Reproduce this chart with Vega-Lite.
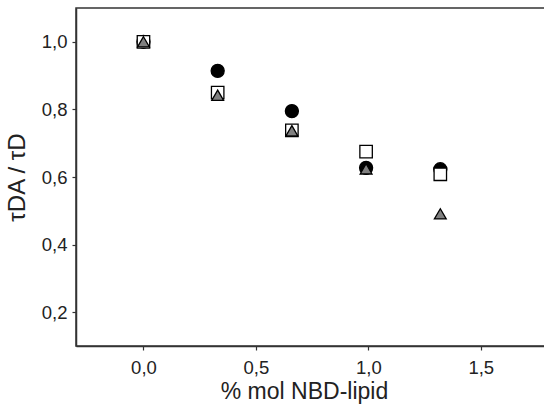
{
  "$schema": "https://vega.github.io/schema/vega-lite/v6.json",
  "width": 470,
  "height": 338,
  "autosize": {"type": "none"},
  "padding": {"left": 76, "top": 8, "right": 0, "bottom": 61},
  "background": "white",
  "config": {
    "view": {"stroke": "#333333", "strokeWidth": 1.5},
    "font": "Liberation Sans",
    "axis": {
      "grid": false,
      "domainColor": "#333333",
      "domainWidth": 1.5,
      "tickColor": "#333333",
      "tickWidth": 1.2,
      "tickSize": 4,
      "labelFont": "Liberation Sans",
      "labelFontSize": 18.5,
      "labelColor": "#222222",
      "titleFont": "Liberation Sans",
      "titleFontSize": 23,
      "titleFontWeight": "normal",
      "titleColor": "#222222"
    }
  },
  "data": {
    "values": [
      {"x": 0.0, "y": 1.0, "series": "circle"},
      {"x": 0.33, "y": 0.914, "series": "circle"},
      {"x": 0.66, "y": 0.795, "series": "circle"},
      {"x": 0.99, "y": 0.627, "series": "circle"},
      {"x": 1.32, "y": 0.623, "series": "circle"},
      {"x": 0.0, "y": 1.0, "series": "square"},
      {"x": 0.33, "y": 0.850, "series": "square"},
      {"x": 0.66, "y": 0.738, "series": "square"},
      {"x": 0.99, "y": 0.675, "series": "square"},
      {"x": 1.32, "y": 0.608, "series": "square"},
      {"x": 0.0, "y": 1.0, "series": "triangle"},
      {"x": 0.33, "y": 0.842, "series": "triangle"},
      {"x": 0.66, "y": 0.737, "series": "triangle"},
      {"x": 0.99, "y": 0.624, "series": "triangle"},
      {"x": 1.32, "y": 0.491, "series": "triangle"}
    ]
  },
  "mark": {"type": "point", "filled": true, "stroke": "black", "strokeWidth": 1.3, "opacity": 1},
  "encoding": {
    "x": {
      "field": "x",
      "type": "quantitative",
      "scale": {"domain": [-0.3, 1.79], "nice": false, "zero": false},
      "axis": {
        "values": [0, 0.5, 1, 1.5],
        "labelExpr": "replace(format(datum.value, '.1f'), '.', ',')",
        "labelPadding": 8,
        "title": "% mol NBD-lipid",
        "titlePadding": 4,
        "titleX": 228
      }
    },
    "y": {
      "field": "y",
      "type": "quantitative",
      "scale": {"domain": [0.1, 1.1], "nice": false, "zero": false},
      "axis": {
        "values": [0.2, 0.4, 0.6, 0.8, 1.0],
        "labelExpr": "replace(format(datum.value, '.1f'), '.', ',')",
        "labelPadding": 5,
        "title": "τDA / τD",
        "titleFontSize": 24,
        "titlePadding": 12
      }
    },
    "shape": {
      "field": "series",
      "type": "nominal",
      "scale": {"domain": ["circle", "square", "triangle"], "range": ["circle", "square", "triangle-up"]},
      "legend": null
    },
    "fill": {
      "field": "series",
      "type": "nominal",
      "scale": {"domain": ["circle", "square", "triangle"], "range": ["#000000", "#ffffff", "#808080"]},
      "legend": null
    },
    "size": {
      "field": "series",
      "type": "nominal",
      "scale": {"domain": ["circle", "square", "triangle"], "range": [170, 140, 150]},
      "legend": null
    }
  }
}
